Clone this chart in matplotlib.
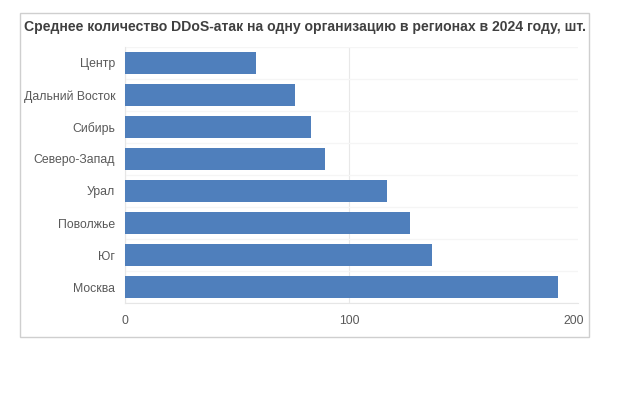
import numpy as np
import matplotlib
matplotlib.use('Agg')
import matplotlib.pyplot as plt
from matplotlib.patches import Rectangle

plt.rcParams['font.family'] = ['Liberation Sans', 'DejaVu Sans']

regions = ['Центр', 'Дальний Восток', 'Сибирь', 'Северо-Запад',
           'Урал', 'Поволжье', 'Юг', 'Москва']
attacks = [58.5, 76, 83, 89, 117, 127, 137, 193]
xticks = [0, 100, 200]
title = 'Среднее количество DDoS-атак на одну организацию в регионах в 2024 году, шт.'

W, H = 618, 395
fig = plt.figure(figsize=(W / 100, H / 100), dpi=100)

# outer frame round the chart
fig.patches.append(Rectangle((20 / W, 1 - 337 / H), 569 / W, 324 / H,
                             transform=fig.transFigure, fill=False,
                             edgecolor='#cfcfcf', linewidth=1))

fig.text(305 / W, 1 - 27 / H, title, ha='center', va='center',
         fontsize=10.1, fontweight='bold', color='#404040')

ax = fig.add_axes([125 / W, 1 - 303 / H, 453 / W, 256 / H])
y = np.arange(len(regions))
ax.barh(y, attacks, height=0.68, color='#4f7fbc', zorder=3)

ax.set_ylim(len(regions) - 0.5, -0.5)
ax.set_xlim(0, 202)
ax.set_yticks(y)
ax.set_yticklabels(regions)
ax.set_xticks(xticks)
ax.set_yticks(np.arange(len(regions) + 1) - 0.5, minor=True)
ax.tick_params(axis='y', which='both', length=0, pad=7, labelsize=8.8, labelcolor='#595959')
ax.tick_params(axis='x', length=0, pad=9, labelsize=8.8, labelcolor='#595959')

ax.grid(axis='y', which='minor', color='#f5f5f5', linewidth=1, zorder=0)
ax.grid(axis='x', which='major', color='#e8e8e8', linewidth=0.8, zorder=0)
ax.grid(axis='y', which='major', visible=False)
ax.get_xgridlines()[-1].set_visible(False)

for s in ['top', 'right']:
    ax.spines[s].set_visible(False)
ax.spines['left'].set_color('#e6e6e6')
ax.spines['bottom'].set_color('#e6e6e6')

fig.savefig('out.png', dpi=100)
